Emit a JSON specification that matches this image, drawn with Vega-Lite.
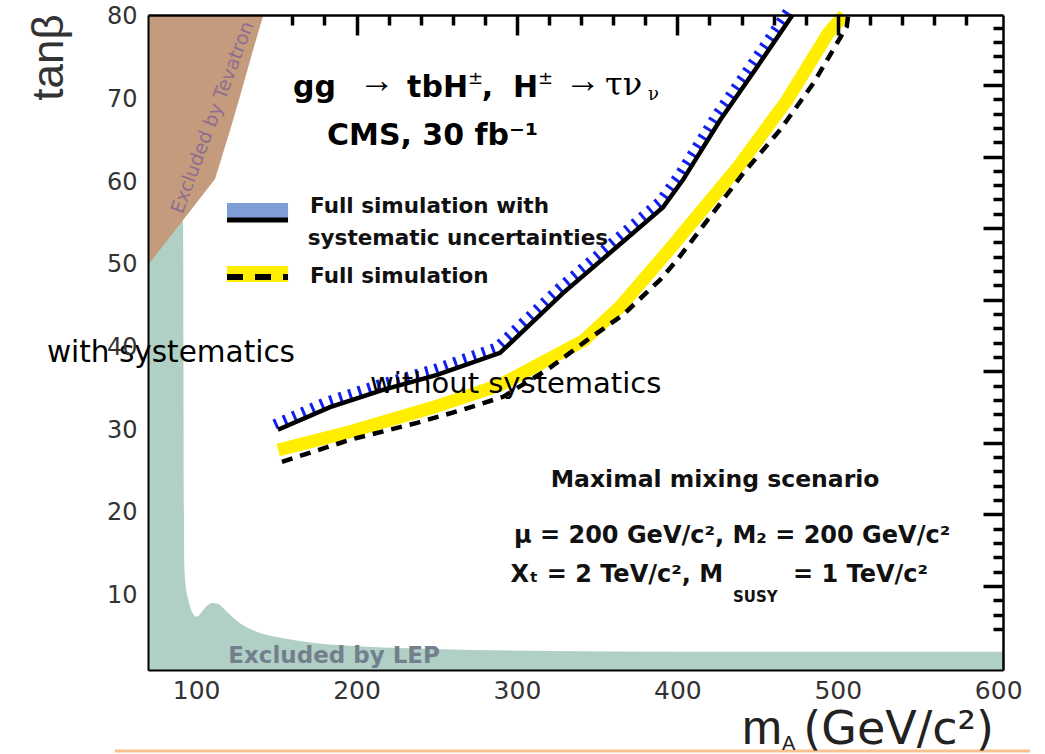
{
  "$schema": "https://vega.github.io/schema/vega-lite/v6.json",
  "width": 855,
  "height": 655,
  "autosize": {"type": "none"},
  "padding": {"left": 148, "top": 15, "right": 42, "bottom": 84},
  "background": "white",
  "config": {"view": {"stroke": null}},
  "resolve": {"axis": {"x": "independent", "y": "independent"}},
  "layer": [
    {
      "data": {"values": [
        {"x": 70, "y": 50}, {"x": 91.8, "y": 55.4}, {"x": 92.6, "y": 14}, {"x": 93.3, "y": 11.5},
        {"x": 95.1, "y": 9.5}, {"x": 97.5, "y": 8.0}, {"x": 100.4, "y": 7.45}, {"x": 103, "y": 7.9},
        {"x": 106.5, "y": 8.7}, {"x": 110, "y": 9.1}, {"x": 113.5, "y": 9.0}, {"x": 119.1, "y": 8.06},
        {"x": 127.4, "y": 6.66}, {"x": 137.8, "y": 5.63}, {"x": 154.4, "y": 4.83}, {"x": 175.2, "y": 4.23},
        {"x": 206.3, "y": 3.82}, {"x": 247.9, "y": 3.54}, {"x": 320.6, "y": 3.3}, {"x": 400, "y": 3.22},
        {"x": 500, "y": 3.2}, {"x": 603, "y": 3.2}
      ]},
      "mark": {"type": "area", "color": "#B0D0C6", "interpolate": "monotone"},
      "encoding": {
        "x": {"field": "x", "type": "quantitative",
          "scale": {"domain": [70, 603], "nice": false, "zero": false},
          "axis": {"orient": "bottom", "title": null, "values": [100, 200, 300, 400, 500, 600], "ticks": false,
            "domainColor": "#000", "domainWidth": 2, "labelFont": "DejaVu Sans", "labelFontSize": 25,
            "labelColor": "#333", "labelPadding": 8, "grid": false, "zindex": 1, "labelFlush": false, "labelOverlap": false}},
        "y": {"field": "y", "type": "quantitative",
          "scale": {"domain": [1, 80.24], "nice": false, "zero": false},
          "axis": {"orient": "left", "title": "tanβ", "titleFont": "Liberation Sans", "titleFontSize": 44,
            "titleFontWeight": "normal", "titleColor": "#333", "titleAngle": -90, "titleX": -86, "titleY": 42,
            "titleAlign": "center", "titleBaseline": "alphabetic",
            "values": [10, 20, 30, 40, 50, 60, 70, 80], "ticks": false, "domainColor": "#000", "domainWidth": 2,
            "labelFont": "DejaVu Sans", "labelFontSize": 24, "labelColor": "#333", "labelPadding": 11,
            "grid": false, "zindex": 1, "labelOverlap": false}},
        "y2": {"datum": 1}
      }
    },
    {
      "data": {"values": [
        {"x": 70, "y": 50}, {"x": 91.8, "y": 55.4}, {"x": 111.8, "y": 60.4}, {"x": 121.5, "y": 66.5},
        {"x": 128.5, "y": 71.2}, {"x": 135.5, "y": 76}, {"x": 141.9, "y": 80.24}
      ]},
      "mark": {"type": "area", "color": "#C59B7D"},
      "encoding": {
        "x": {"field": "x", "type": "quantitative",
          "axis": {"orient": "top", "title": null, "labels": false,
            "values": [160, 180, 200, 220, 240, 260, 280, 300, 320, 340, 360, 380, 400, 420, 440, 460, 480, 500, 520, 540, 560, 580],
            "tickSize": {"condition": {"test": "datum.value % 100 === 0", "value": -20}, "value": -10},
            "tickColor": "#000", "tickWidth": 3.5, "domainColor": "#000", "domainWidth": 2.5, "grid": false, "zindex": 1}},
        "y": {"field": "y", "type": "quantitative",
          "axis": {"orient": "right", "title": null, "labels": false,
            "values": [78.71, 76.98, 75.24, 73.51, 71.78, 70.05, 68.32, 66.58, 64.85, 63.12, 61.39, 59.66, 57.92, 56.19, 54.46, 52.73, 51.0, 49.26, 47.53, 45.8, 44.07, 42.34, 40.6, 38.87, 37.14, 35.41, 33.68, 31.94, 30.21, 28.48, 26.75, 25.02, 23.28, 21.55, 19.82, 18.09, 16.36, 14.62, 12.89, 11.16, 9.43, 7.7, 5.96],
            "tickSize": {"condition": {"test": "indexof([71.78,63.12,54.46,45.8,37.14,28.48,19.82,11.16], datum.value) >= 0", "value": -20}, "value": -10},
            "tickColor": "#000", "tickWidth": 3.5, "domainColor": "#000", "domainWidth": 2.5, "grid": false, "zindex": 1}},
        "y2": {"datum": 80.24}
      }
    },
    {
      "data": {"values": [
        {"x": 151.2, "y": 27.62}, {"x": 195.9, "y": 29.83}, {"x": 247.9, "y": 32.78}, {"x": 289.5, "y": 35.48},
        {"x": 341.4, "y": 40.84}, {"x": 364.3, "y": 44.95}, {"x": 396.5, "y": 52.2}, {"x": 438.0, "y": 61.9},
        {"x": 468.5, "y": 69.96}, {"x": 494.0, "y": 78.03}, {"x": 504.0, "y": 80.24}
      ]},
      "mark": {"type": "line", "color": "#FFEE00", "strokeWidth": 13, "strokeCap": "butt"},
      "encoding": {
        "x": {"field": "x", "type": "quantitative", "axis": null},
        "y": {"field": "y", "type": "quantitative", "axis": null}
      }
    },
    {
      "data": {"values": [
        {"x": 153.5, "y": 26.19}, {"x": 195.9, "y": 28.85}, {"x": 237.7, "y": 30.9}, {"x": 266.4, "y": 32.5},
        {"x": 291.3, "y": 34.05}, {"x": 319.4, "y": 37.4}, {"x": 343.7, "y": 40.9}, {"x": 366.1, "y": 43.96},
        {"x": 389.2, "y": 48.2}, {"x": 399.8, "y": 50.6}, {"x": 441.1, "y": 61.09}, {"x": 464.0, "y": 66.33},
        {"x": 484.8, "y": 71.98}, {"x": 505.6, "y": 78.83}, {"x": 506.5, "y": 80.24}
      ]},
      "mark": {"type": "line", "color": "#000", "strokeWidth": 4.5, "strokeDash": [11, 8]},
      "encoding": {
        "x": {"field": "x", "type": "quantitative", "axis": null},
        "y": {"field": "y", "type": "quantitative", "axis": null}
      }
    },
    {
      "data": {"values": [
        {"x": 151.0, "y": 30.06}, {"x": 183.5, "y": 32.8}, {"x": 216.5, "y": 34.9}, {"x": 250.2, "y": 36.7},
        {"x": 289.5, "y": 39.37}, {"x": 328.7, "y": 46.6}, {"x": 362.4, "y": 52.2}, {"x": 391.1, "y": 57.0},
        {"x": 403.5, "y": 60.3}, {"x": 426.6, "y": 67.5}, {"x": 449.7, "y": 73.95}, {"x": 471.8, "y": 80.24}
      ]},
      "layer": [
        {"mark": {"type": "line", "color": "#1020F0", "strokeWidth": 10, "strokeDash": [3, 7], "xOffset": -3.5, "yOffset": -5.5}},
        {"mark": {"type": "line", "color": "#000", "strokeWidth": 4.5}}
      ],
      "encoding": {
        "x": {"field": "x", "type": "quantitative", "axis": null},
        "y": {"field": "y", "type": "quantitative", "axis": null}
      }
    },
    {
      "data": {"values": [{}]},
      "mark": {"type": "rule", "color": "#7F9DD6", "strokeWidth": 15},
      "encoding": {"x": {"datum": 119.25, "axis": null}, "x2": {"datum": 157.3}, "y": {"datum": 56.59, "axis": null}}
    },
    {
      "data": {"values": [{}]},
      "mark": {"type": "rule", "color": "#000", "strokeWidth": 5},
      "encoding": {"x": {"datum": 119.25, "axis": null}, "x2": {"datum": 157.3}, "y": {"datum": 55.44, "axis": null}}
    },
    {
      "data": {"values": [{}]},
      "mark": {"type": "rule", "color": "#FFEE00", "strokeWidth": 16},
      "encoding": {"x": {"datum": 119.25, "axis": null}, "x2": {"datum": 157.3}, "y": {"datum": 48.91, "axis": null}}
    },
    {
      "data": {"values": [{}]},
      "mark": {"type": "rule", "color": "#000", "strokeWidth": 6, "strokeDash": [16, 12]},
      "encoding": {"x": {"datum": 119.25, "axis": null}, "x2": {"datum": 157.3}, "y": {"datum": 48.54, "axis": null}}
    },
    {
      "data": {"values": [{}]},
      "mark": {"type": "text", "text": "Excluded by LEP", "font": "DejaVu Sans", "fontWeight": "bold", "fontSize": 23, "align": "center", "baseline": "alphabetic", "color": "#737F8C"},
      "encoding": {"x": {"datum": 186, "axis": null}, "y": {"datum": 1.9, "axis": null}}
    },
    {
      "data": {"values": [{}]},
      "mark": {"type": "text", "text": "Excluded by Tevatron", "font": "DejaVu Sans", "fontSize": 19, "align": "center", "baseline": "middle", "angle": -69.5, "color": "#8E6E90"},
      "encoding": {"x": {"datum": 110.2, "axis": null}, "y": {"datum": 67.84, "axis": null}}
    },
    {
      "data": {"values": [{}]},
      "mark": {"type": "text", "text": "gg", "font": "DejaVu Sans", "fontWeight": "bold", "fontSize": 30, "align": "left", "baseline": "alphabetic", "color": "#000"},
      "encoding": {"x": {"datum": 160.4, "axis": null}, "y": {"datum": 70.32, "axis": null}}
    },
    {
      "data": {"values": [{}]},
      "mark": {"type": "text", "text": "→", "font": "Liberation Serif", "fontSize": 36, "align": "left", "baseline": "alphabetic", "color": "#000"},
      "encoding": {"x": {"datum": 201.5, "axis": null}, "y": {"datum": 70.93, "axis": null}}
    },
    {
      "data": {"values": [{}]},
      "mark": {"type": "text", "text": "tbH", "font": "DejaVu Sans", "fontWeight": "bold", "fontSize": 30, "align": "left", "baseline": "alphabetic", "color": "#000"},
      "encoding": {"x": {"datum": 231.5, "axis": null}, "y": {"datum": 70.32, "axis": null}}
    },
    {
      "data": {"values": [{}]},
      "mark": {"type": "text", "text": "±", "font": "DejaVu Sans", "fontSize": 18, "align": "left", "baseline": "alphabetic", "color": "#000"},
      "encoding": {"x": {"datum": 269.5, "axis": null}, "y": {"datum": 71.9, "axis": null}}
    },
    {
      "data": {"values": [{}]},
      "mark": {"type": "text", "text": ",", "font": "DejaVu Sans", "fontWeight": "bold", "fontSize": 30, "align": "left", "baseline": "alphabetic", "color": "#000"},
      "encoding": {"x": {"datum": 278, "axis": null}, "y": {"datum": 70.32, "axis": null}}
    },
    {
      "data": {"values": [{}]},
      "mark": {"type": "text", "text": "H", "font": "DejaVu Sans", "fontWeight": "bold", "fontSize": 30, "align": "left", "baseline": "alphabetic", "color": "#000"},
      "encoding": {"x": {"datum": 297.6, "axis": null}, "y": {"datum": 70.32, "axis": null}}
    },
    {
      "data": {"values": [{}]},
      "mark": {"type": "text", "text": "±", "font": "DejaVu Sans", "fontSize": 18, "align": "left", "baseline": "alphabetic", "color": "#000"},
      "encoding": {"x": {"datum": 313.1, "axis": null}, "y": {"datum": 71.9, "axis": null}}
    },
    {
      "data": {"values": [{}]},
      "mark": {"type": "text", "text": "→", "font": "Liberation Serif", "fontSize": 36, "align": "left", "baseline": "alphabetic", "color": "#000"},
      "encoding": {"x": {"datum": 330.0, "axis": null}, "y": {"datum": 70.93, "axis": null}}
    },
    {
      "data": {"values": [{}]},
      "mark": {"type": "text", "text": "τν", "font": "DejaVu Serif", "fontSize": 32, "align": "left", "baseline": "alphabetic", "color": "#000"},
      "encoding": {"x": {"datum": 354.9, "axis": null}, "y": {"datum": 70.56, "axis": null}}
    },
    {
      "data": {"values": [{}]},
      "mark": {"type": "text", "text": "ν", "font": "DejaVu Serif", "fontSize": 18, "align": "left", "baseline": "alphabetic", "color": "#000"},
      "encoding": {"x": {"datum": 381.7, "axis": null}, "y": {"datum": 69.96, "axis": null}}
    },
    {
      "data": {"values": [{}]},
      "mark": {"type": "text", "text": "CMS, 30 fb⁻¹", "font": "DejaVu Sans", "fontWeight": "bold", "fontSize": 30, "align": "left", "baseline": "alphabetic", "color": "#000"},
      "encoding": {"x": {"datum": 181.6, "axis": null}, "y": {"datum": 64.51, "axis": null}}
    },
    {
      "data": {"values": [{}]},
      "mark": {"type": "text", "text": "Full simulation with", "font": "DejaVu Sans", "fontWeight": "bold", "fontSize": 21.5, "align": "left", "baseline": "alphabetic", "color": "#111"},
      "encoding": {"x": {"datum": 171.0, "axis": null}, "y": {"datum": 56.29, "axis": null}}
    },
    {
      "data": {"values": [{}]},
      "mark": {"type": "text", "text": "systematic uncertainties", "font": "DejaVu Sans", "fontWeight": "bold", "fontSize": 21.5, "align": "left", "baseline": "alphabetic", "color": "#111"},
      "encoding": {"x": {"datum": 169.6, "axis": null}, "y": {"datum": 52.42, "axis": null}}
    },
    {
      "data": {"values": [{}]},
      "mark": {"type": "text", "text": "Full simulation", "font": "DejaVu Sans", "fontWeight": "bold", "fontSize": 21.5, "align": "left", "baseline": "alphabetic", "color": "#111"},
      "encoding": {"x": {"datum": 171.0, "axis": null}, "y": {"datum": 47.82, "axis": null}}
    },
    {
      "data": {"values": [{}]},
      "mark": {"type": "text", "text": "Maximal mixing scenario", "font": "DejaVu Sans", "fontWeight": "bold", "fontSize": 23.5, "align": "center", "baseline": "alphabetic", "color": "#111"},
      "encoding": {"x": {"datum": 423.5, "axis": null}, "y": {"datum": 23.14, "axis": null}}
    },
    {
      "data": {"values": [{}]},
      "mark": {"type": "text", "text": "μ = 200 GeV/c², M₂ = 200 GeV/c²", "font": "DejaVu Sans", "fontWeight": "bold", "fontSize": 24, "align": "center", "baseline": "alphabetic", "color": "#111"},
      "encoding": {"x": {"datum": 434.1, "axis": null}, "y": {"datum": 16.36, "axis": null}}
    },
    {
      "data": {"values": [{}]},
      "mark": {"type": "text", "text": "Xₜ = 2 TeV/c², M", "font": "DejaVu Sans", "fontWeight": "bold", "fontSize": 24, "align": "right", "baseline": "alphabetic", "color": "#111"},
      "encoding": {"x": {"datum": 428.5, "axis": null}, "y": {"datum": 11.65, "axis": null}}
    },
    {
      "data": {"values": [{}]},
      "mark": {"type": "text", "text": "SUSY", "font": "DejaVu Sans", "fontWeight": "bold", "fontSize": 15, "align": "left", "baseline": "alphabetic", "color": "#111"},
      "encoding": {"x": {"datum": 434.7, "axis": null}, "y": {"datum": 9.23, "axis": null}}
    },
    {
      "data": {"values": [{}]},
      "mark": {"type": "text", "text": "= 1 TeV/c²", "font": "DejaVu Sans", "fontWeight": "bold", "fontSize": 24, "align": "left", "baseline": "alphabetic", "color": "#111"},
      "encoding": {"x": {"datum": 472.1, "axis": null}, "y": {"datum": 11.65, "axis": null}}
    },
    {
      "data": {"values": [{}]},
      "mark": {"type": "rule", "color": "#FAC08F", "strokeWidth": 3},
      "encoding": {"x": {"datum": 49.4, "axis": null}, "x2": {"datum": 619.9}, "y": {"datum": -8.8, "axis": null}}
    },
    {
      "data": {"values": [{}]},
      "mark": {"type": "text", "text": "m", "font": "Liberation Sans", "fontSize": 48, "align": "left", "baseline": "alphabetic", "color": "#222"},
      "encoding": {"x": {"datum": 440.3, "axis": null}, "y": {"datum": -7.95, "axis": null}}
    },
    {
      "data": {"values": [{}]},
      "mark": {"type": "text", "text": "A", "font": "Liberation Sans", "fontSize": 20, "align": "left", "baseline": "alphabetic", "color": "#222"},
      "encoding": {"x": {"datum": 465.3, "axis": null}, "y": {"datum": -8.7, "axis": null}}
    },
    {
      "data": {"values": [{}]},
      "mark": {"type": "text", "text": "(GeV/c²)", "font": "DejaVu Sans", "fontSize": 46, "align": "left", "baseline": "alphabetic", "color": "#222"},
      "encoding": {"x": {"datum": 478.5, "axis": null}, "y": {"datum": -7.95, "axis": null}}
    },
    {
      "data": {"values": [{}]},
      "mark": {"type": "text", "text": "with systematics", "font": "DejaVu Sans", "fontSize": 29.5, "align": "left", "baseline": "alphabetic", "color": "#000"},
      "encoding": {"x": {"datum": 7.0, "axis": null}, "y": {"datum": 38.26, "axis": null}}
    },
    {
      "data": {"values": [{}]},
      "mark": {"type": "text", "text": "without systematics", "font": "DejaVu Sans", "fontSize": 29, "align": "left", "baseline": "alphabetic", "color": "#000"},
      "encoding": {"x": {"datum": 208.4, "axis": null}, "y": {"datum": 34.51, "axis": null}}
    }
  ]
}
